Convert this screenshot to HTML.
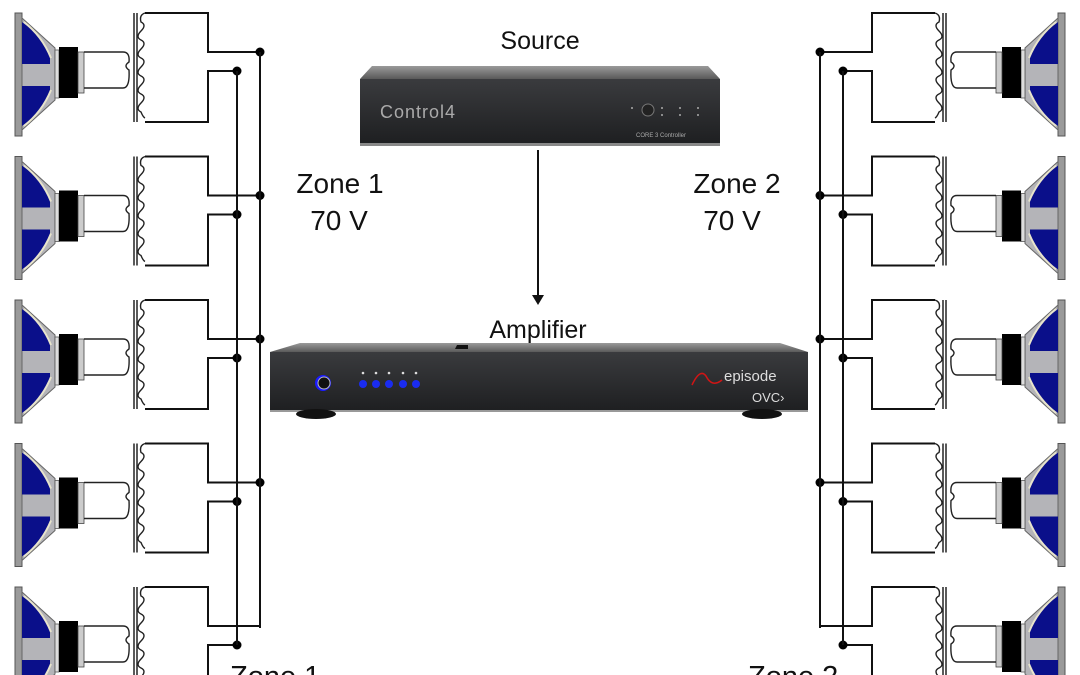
<!DOCTYPE html>
<html><head><meta charset="utf-8"><style>
html,body{margin:0;padding:0;background:#fff;width:1080px;height:675px;overflow:hidden}
svg{display:block}
text{font-family:"Liberation Sans",sans-serif;fill:#111}
</style></head><body>
<svg width="1080" height="675" viewBox="0 0 1080 675" xmlns="http://www.w3.org/2000/svg">
<defs>
<linearGradient id="box" x1="0" y1="0" x2="0" y2="1">
<stop offset="0" stop-color="#3a3b3e"/><stop offset="1" stop-color="#1e1f21"/></linearGradient>
<linearGradient id="top" x1="0" y1="0" x2="0" y2="1">
<stop offset="0" stop-color="#9a9a9a"/><stop offset="1" stop-color="#5a5a5a"/></linearGradient>
<clipPath id="cp"><rect x="0" y="0" width="1080" height="675"/></clipPath>
<g id="unit">
  <rect x="15" y="13" width="7" height="123" fill="#9a9a9a" stroke="#555" stroke-width="1"/>
  <polygon points="22,18 55,48 55,100 22,130" fill="#b4b4b8" stroke="#666" stroke-width="1"/>
  <path d="M22,22 Q40,35 50,55 L50,64 L22,64 Z" fill="#0a0f8a"/>
  <path d="M22,126 Q40,113 50,93 L50,86 L22,86 Z" fill="#0a0f8a"/>
  <path d="M24,22 Q42,36 51,58" fill="none" stroke="#e8e4cc" stroke-width="2"/>
  <path d="M24,126 Q42,112 51,90" fill="none" stroke="#e8e4cc" stroke-width="2"/>
  <rect x="55" y="50" width="4" height="48" fill="#ddd" stroke="#555" stroke-width="0.8"/>
  <rect x="59" y="47" width="19" height="51" fill="#000"/>
  <rect x="78" y="52" width="6" height="41" fill="#ccc" stroke="#444" stroke-width="0.8"/>
  <path d="M84,52 H123 Q130,52 129,62 Q123,66 129,70 Q130,88 123,88 H84" fill="none" stroke="#222" stroke-width="1.4"/>
  <line x1="134" y1="13" x2="134" y2="122" stroke="#222" stroke-width="1.5"/>
  <line x1="137" y1="13" x2="137" y2="122" stroke="#222" stroke-width="1.5"/>
  <path d="M145,13 q-6,2 -4,9 q6,3 0,9 q-6,6 0,9 q6,3 0,9 q-6,6 0,9 q6,3 0,9 q-6,6 0,9 q6,3 0,9 q-6,6 0,9 q6,3 0,9 q-6,6 0,9 q2,5 4,6" fill="none" stroke="#222" stroke-width="1.4"/>
  <path d="M145,13 H208 V52 H260" fill="none" stroke="#111" stroke-width="2"/>
  <path d="M237,71 H208 V122 H145" fill="none" stroke="#111" stroke-width="2"/>
  <circle cx="237" cy="71" r="4.5" fill="#000"/>
</g>
<g id="side">
  <use href="#unit" transform="translate(0,0)"/>
  <use href="#unit" transform="translate(0,143.5)"/>
  <use href="#unit" transform="translate(0,287)"/>
  <use href="#unit" transform="translate(0,430.5)"/>
  <use href="#unit" transform="translate(0,574)"/>
  <circle cx="260" cy="52" r="4.5" fill="#000"/>
  <circle cx="260" cy="195.5" r="4.5" fill="#000"/>
  <circle cx="260" cy="339" r="4.5" fill="#000"/>
  <circle cx="260" cy="482.5" r="4.5" fill="#000"/>
  <line x1="260" y1="52" x2="260" y2="628" stroke="#111" stroke-width="2"/>
  <line x1="237" y1="71" x2="237" y2="645" stroke="#111" stroke-width="2"/>
</g>
</defs>
<g clip-path="url(#cp)">
<use href="#side"/>
<use href="#side" transform="translate(1080,0) scale(-1,1)"/>
<rect x="220" y="650" width="110" height="25" fill="#fff"/>
<rect x="748" y="650" width="110" height="25" fill="#fff"/>
<text x="230" y="686" font-size="29">Zone 1</text>
<text x="748" y="686" font-size="29">Zone 2</text>
</g>

<text x="340" y="193" font-size="28" text-anchor="middle">Zone 1</text>
<text x="339" y="230" font-size="28" text-anchor="middle">70 V</text>
<text x="737" y="193" font-size="28" text-anchor="middle">Zone 2</text>
<text x="732" y="230" font-size="28" text-anchor="middle">70 V</text>

<text x="540" y="49" font-size="25" text-anchor="middle">Source</text>
<polygon points="372,66 708,66 720,79 360,79" fill="url(#top)"/>
<rect x="360" y="79" width="360" height="65" fill="url(#box)"/>
<rect x="360" y="143" width="360" height="3" fill="#888"/>
<text x="380" y="118" font-size="18" style="fill:#aaa" letter-spacing="1">Control4</text>
<circle cx="648" cy="110" r="6" fill="#222" stroke="#777"/>
<text x="636" y="137" font-size="6" style="fill:#aaa">CORE 3 Controller</text>
<g fill="#aaa"><circle cx="632" cy="108" r="1"/><circle cx="662" cy="108" r="1"/><circle cx="680" cy="108" r="1"/><circle cx="698" cy="108" r="1"/><circle cx="662" cy="115" r="1"/><circle cx="680" cy="115" r="1"/><circle cx="698" cy="115" r="1"/></g>

<line x1="538" y1="150" x2="538" y2="297" stroke="#111" stroke-width="2"/>
<polygon points="532,295 544,295 538,305" fill="#111"/>

<text x="538" y="338" font-size="25" text-anchor="middle">Amplifier</text>
<polygon points="300,343 780,343 808,352 270,352" fill="url(#top)"/>
<polygon points="455,349 457,345 468,345 468,349" fill="#111"/>
<rect x="270" y="352" width="538" height="59" fill="url(#box)"/>
<rect x="270" y="410" width="538" height="2" fill="#999"/>
<ellipse cx="316" cy="414" rx="20" ry="5" fill="#111"/>
<ellipse cx="762" cy="414" rx="20" ry="5" fill="#111"/>
<circle cx="323" cy="383" r="8" fill="#1a1aff"/>
<circle cx="324" cy="383" r="6" fill="#111" stroke="#bbb" stroke-width="1"/>
<g fill="#1a2cf0"><circle cx="363" cy="384" r="4"/><circle cx="376" cy="384" r="4"/><circle cx="389" cy="384" r="4"/><circle cx="403" cy="384" r="4"/><circle cx="416" cy="384" r="4"/></g>
<g fill="#ddd"><circle cx="363" cy="373" r="1.3"/><circle cx="376" cy="373" r="1.3"/><circle cx="389" cy="373" r="1.3"/><circle cx="403" cy="373" r="1.3"/><circle cx="416" cy="373" r="1.3"/></g>
<path d="M692,385 Q700,368 706,376 Q712,388 722,380" fill="none" stroke="#d01515" stroke-width="1.5"/>
<text x="724" y="381" font-size="15" style="fill:#ddd">episode</text>
<text x="752" y="402" font-size="13" style="fill:#ddd">OVC›</text>
</svg>
</body></html>
